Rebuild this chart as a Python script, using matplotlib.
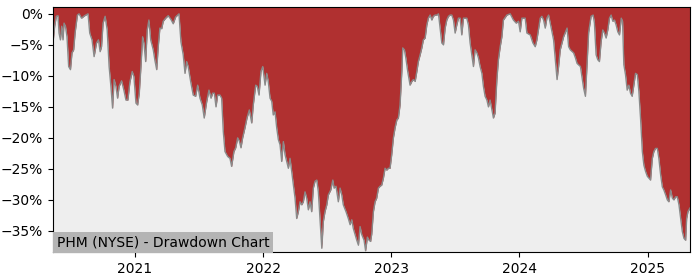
import matplotlib
matplotlib.use("Agg")
import matplotlib.pyplot as plt
import matplotlib.dates as mdates
from matplotlib.ticker import FuncFormatter
from datetime import datetime, timedelta

# time as decimal years, drawdown in percent
years = [
    2020.362, 2020.375, 2020.388, 2020.401, 2020.409, 2020.420, 2020.430, 2020.440,
    2020.448, 2020.459, 2020.471, 2020.484, 2020.498, 2020.510, 2020.523, 2020.534,
    2020.552, 2020.565, 2020.584, 2020.609, 2020.635, 2020.648, 2020.666, 2020.682,
    2020.701, 2020.716, 2020.729, 2020.740, 2020.752, 2020.768, 2020.784, 2020.799,
    2020.813, 2020.826, 2020.838, 2020.852, 2020.865, 2020.877, 2020.896, 2020.914,
    2020.930, 2020.945, 2020.961, 2020.979, 2020.992, 2021.008, 2021.021, 2021.034,
    2021.047, 2021.060, 2021.070, 2021.084, 2021.096, 2021.109, 2021.123, 2021.143,
    2021.156, 2021.170, 2021.182, 2021.195, 2021.209, 2021.221, 2021.240, 2021.260,
    2021.281, 2021.299, 2021.318, 2021.344, 2021.359, 2021.377, 2021.391, 2021.404,
    2021.416, 2021.435, 2021.455, 2021.474, 2021.490, 2021.508, 2021.526, 2021.541,
    2021.560, 2021.578, 2021.594, 2021.607, 2021.620, 2021.633, 2021.646, 2021.664,
    2021.677, 2021.690, 2021.703, 2021.724, 2021.742, 2021.755, 2021.773, 2021.787,
    2021.802, 2021.815, 2021.828, 2021.841, 2021.859, 2021.875, 2021.893, 2021.912,
    2021.924, 2021.943, 2021.955, 2021.969, 2021.984, 2021.998, 2022.016, 2022.029,
    2022.041, 2022.055, 2022.068, 2022.080, 2022.094, 2022.107, 2022.120, 2022.133,
    2022.146, 2022.159, 2022.172, 2022.185, 2022.198, 2022.211, 2022.224, 2022.237,
    2022.250, 2022.263, 2022.276, 2022.289, 2022.302, 2022.315, 2022.328, 2022.341,
    2022.354, 2022.367, 2022.380, 2022.393, 2022.406, 2022.420, 2022.432, 2022.445,
    2022.459, 2022.471, 2022.484, 2022.498, 2022.510, 2022.529, 2022.545, 2022.555,
    2022.570, 2022.588, 2022.602, 2022.615, 2022.627, 2022.648, 2022.666, 2022.680,
    2022.693, 2022.705, 2022.719, 2022.732, 2022.745, 2022.758, 2022.771, 2022.789,
    2022.801, 2022.815, 2022.828, 2022.840, 2022.849, 2022.862, 2022.875, 2022.888,
    2022.901, 2022.914, 2022.927, 2022.940, 2022.953, 2022.966, 2022.979, 2022.992,
    2023.005, 2023.018, 2023.031, 2023.045, 2023.057, 2023.070, 2023.084, 2023.091,
    2023.104, 2023.115, 2023.130, 2023.148, 2023.162, 2023.174, 2023.188, 2023.201,
    2023.213, 2023.227, 2023.240, 2023.252, 2023.266, 2023.279, 2023.291, 2023.305,
    2023.318, 2023.330, 2023.344, 2023.357, 2023.370, 2023.383, 2023.396, 2023.409,
    2023.422, 2023.435, 2023.448, 2023.461, 2023.474, 2023.487, 2023.500, 2023.513,
    2023.526, 2023.539, 2023.552, 2023.565, 2023.578, 2023.591, 2023.604, 2023.617,
    2023.630, 2023.643, 2023.656, 2023.670, 2023.682, 2023.695, 2023.709, 2023.721,
    2023.734, 2023.748, 2023.760, 2023.773, 2023.787, 2023.799, 2023.812, 2023.826,
    2023.838, 2023.852, 2023.865, 2023.877, 2023.904, 2023.930, 2023.955, 2023.977,
    2023.995, 2024.008, 2024.021, 2024.047, 2024.060, 2024.086, 2024.107, 2024.125,
    2024.138, 2024.164, 2024.177, 2024.190, 2024.203, 2024.216, 2024.229, 2024.242,
    2024.268, 2024.295, 2024.307, 2024.320, 2024.346, 2024.373, 2024.385, 2024.398,
    2024.424, 2024.438, 2024.451, 2024.477, 2024.502, 2024.516, 2024.529, 2024.541,
    2024.560, 2024.576, 2024.586, 2024.599, 2024.612, 2024.625, 2024.638, 2024.651,
    2024.664, 2024.677, 2024.690, 2024.703, 2024.716, 2024.729, 2024.742, 2024.755,
    2024.768, 2024.781, 2024.795, 2024.805, 2024.815, 2024.828, 2024.841, 2024.854,
    2024.867, 2024.880, 2024.893, 2024.906, 2024.920, 2024.932, 2024.945, 2024.959,
    2024.971, 2024.984, 2024.998, 2025.010, 2025.023, 2025.037, 2025.049, 2025.062,
    2025.076, 2025.088, 2025.102, 2025.115, 2025.127, 2025.141, 2025.154, 2025.166,
    2025.180, 2025.193, 2025.205, 2025.219, 2025.232, 2025.245, 2025.258, 2025.271,
    2025.284, 2025.297, 2025.305, 2025.315, 2025.331,
]

drawdown = [
    -4.7, -2.0, -0.4, -0.3, -3.1, -4.2, -2.0, -4.2,
    -1.5, -2.0, -3.7, -8.5, -9.0, -6.3, -5.8, -3.1,
    -0.2, 0.0, -0.7, -0.3, 0.0, -3.1, -4.2, -6.9,
    -4.7, -4.2, -6.1, -5.3, -1.5, -0.4, -2.6, -8.5,
    -11.7, -15.2, -10.6, -11.7, -13.6, -11.7, -10.8, -12.3,
    -13.9, -13.9, -11.0, -9.3, -10.1, -14.4, -14.7, -12.8,
    -8.5, -3.7, -4.7, -7.7, -2.6, -1.0, -4.2, -5.8,
    -7.5, -9.0, -5.3, -2.3, -2.4, -1.2, -0.7, -0.3,
    -0.9, -1.6, -0.5, 0.0, -4.5, -6.6, -9.6, -7.7,
    -8.5, -10.9, -13.1, -13.3, -11.5, -13.6, -14.7, -16.8,
    -14.2, -12.3, -13.6, -12.8, -12.8, -15.0, -13.1, -13.1,
    -13.6, -19.0, -22.2, -23.0, -23.3, -24.6, -22.2, -21.6,
    -20.0, -20.5, -21.6, -20.0, -18.4, -16.8, -15.5, -17.6,
    -14.7, -11.5, -11.7, -13.1, -9.3, -8.5, -11.5, -9.6,
    -10.9, -13.6, -14.1, -16.3, -15.8, -18.4, -20.3, -21.1,
    -23.8, -20.6, -22.7, -23.8, -24.9, -23.3, -25.4, -27.6,
    -29.7, -33.0, -31.9, -30.3, -30.8, -30.3, -28.7, -29.7,
    -31.6, -30.3, -31.9, -28.1, -27.0, -26.8, -28.7, -33.0,
    -37.8, -33.5, -31.9, -30.8, -29.2, -28.4, -26.8, -28.1,
    -27.8, -30.3, -28.1, -29.2, -30.8, -31.9, -33.0, -34.0,
    -33.2, -34.6, -35.6, -36.5, -37.3, -34.3, -35.6, -36.5,
    -38.2, -36.0, -36.5, -36.7, -35.5, -31.9, -30.3, -29.7,
    -28.1, -27.8, -27.6, -26.5, -24.9, -25.2, -24.9, -24.9,
    -22.7, -20.0, -18.4, -17.1, -16.8, -14.7, -9.3, -5.5,
    -5.8, -7.1, -9.3, -11.5, -10.9, -10.6, -10.9, -9.3,
    -7.7, -6.6, -5.5, -4.2, -3.9, -1.8, -0.7, -0.2,
    -1.0, -0.4, -0.2, -0.2, 0.0, -2.3, -4.7, -5.0,
    -2.3, -1.0, -0.4, -0.2, -0.2, -1.0, -3.1, -1.8,
    -0.7, -0.7, -3.4, -0.7, -0.7, -0.7, -1.8, -4.7,
    -6.6, -8.5, -5.8, -6.3, -7.1, -8.5, -9.6, -11.7,
    -13.3, -13.9, -15.0, -13.9, -15.5, -16.8, -16.0, -10.6,
    -7.4, -5.3, -3.7, -1.0, -0.2, 0.0, -1.0, -1.5,
    -1.2, -2.9, -0.7, -0.7, -3.1, -3.4, -4.7, -5.3,
    -4.2, -0.7, -0.4, -1.0, -2.3, -0.7, -0.2, -1.5,
    -4.2, -10.6, -8.5, -5.8, -3.7, -2.3, -5.3, -5.8,
    -6.3, -7.1, -8.0, -8.5, -12.0, -13.3, -8.0, -3.0,
    -0.4, -0.2, -1.5, -6.6, -7.4, -7.7, -4.5, -2.6,
    -3.1, -3.9, -2.6, -0.7, -0.2, -1.2, -1.0, -1.8,
    -2.9, -3.4, -0.7, -1.2, -8.2, -9.8, -12.3, -11.5,
    -12.8, -13.3, -11.5, -9.6, -9.8, -12.5, -16.8, -22.2,
    -24.4, -25.4, -26.2, -26.5, -26.8, -23.3, -22.2, -21.7,
    -21.7, -23.3, -26.0, -27.9, -28.4, -29.2, -30.0, -30.3,
    -28.4, -29.7, -30.0, -29.5, -29.5, -30.8, -33.0, -35.1,
    -36.2, -36.5, -33.0, -31.9, -31.3,
]

title = "PHM (NYSE) - Drawdown Chart"
y_ticks = [0, -5, -10, -15, -20, -25, -30, -35]


def to_date(y):
    yr = int(y)
    start = datetime(yr, 1, 1)
    days = (datetime(yr + 1, 1, 1) - start).days
    return start + timedelta(days=(y - yr) * days)


dates = [to_date(y) for y in years]
y_top, y_bottom = 1.1, -38.4

fig = plt.figure(figsize=(7, 2.8), dpi=100)
ax = fig.add_axes([0.0757, 0.1, 0.91, 0.875])
ax.set_facecolor("#eeeeee")

ax.fill_between(dates, drawdown, y_top, color="#b03030", linewidth=0)
ax.plot(dates, drawdown, color="#8a8a8a", linewidth=1)

ax.set_xlim(dates[0], dates[-1])
ax.set_ylim(y_bottom, y_top)
ax.set_yticks(y_ticks)
ax.yaxis.set_major_formatter(FuncFormatter(lambda v, p: f"{v:.0f}%".replace("-", "\u2212")))
ax.xaxis.set_major_locator(mdates.YearLocator())
ax.xaxis.set_major_formatter(mdates.DateFormatter("%Y"))
ax.tick_params(labelsize=10)

ax.text(0.006, 0.012, title, transform=ax.transAxes, fontsize=10,
        ha="left", va="bottom",
        bbox=dict(facecolor="#b4b4b4", edgecolor="none", pad=2.5))

fig.savefig("out.png", dpi=100)
